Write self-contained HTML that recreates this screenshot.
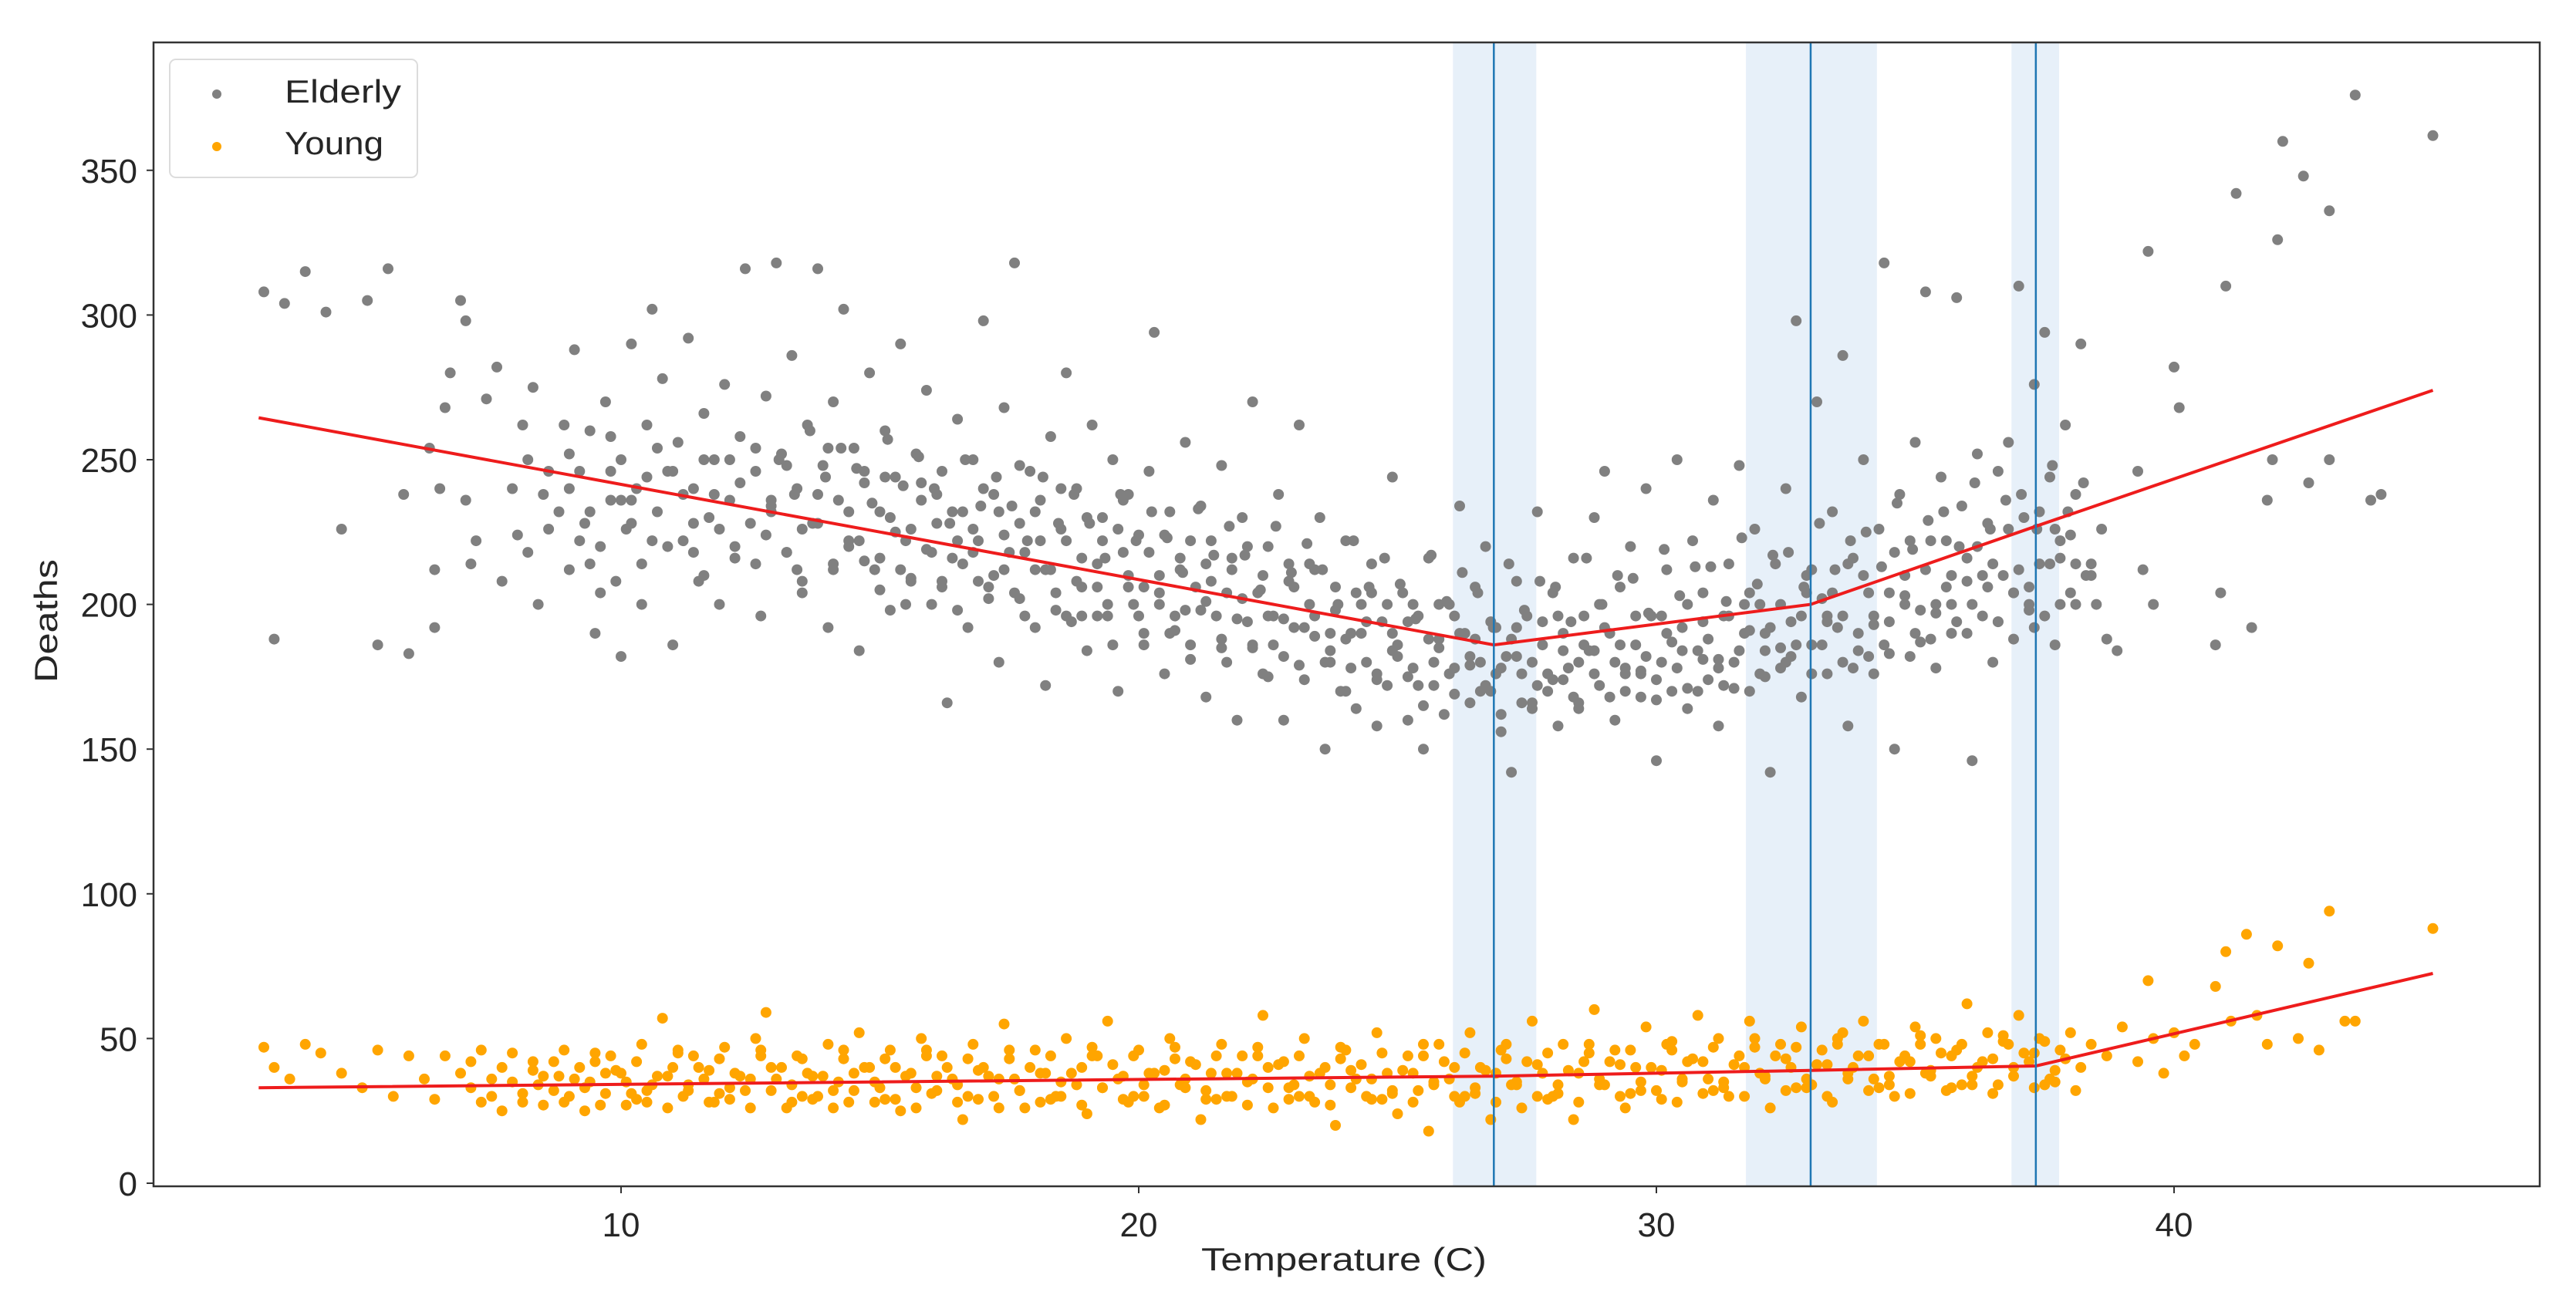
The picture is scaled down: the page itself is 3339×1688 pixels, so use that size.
<!DOCTYPE html>
<html>
<head>
<meta charset="utf-8">
<style>
  html,body{margin:0;padding:0;background:#fff;}
  svg{display:block;}
  text{font-family:"Liberation Sans","DejaVu Sans",sans-serif;fill:#262626;}
</style>
</head>
<body>
<svg id="chart" width="3339" height="1688" viewBox="0 0 3339 1688" xmlns="http://www.w3.org/2000/svg">
  <rect x="0" y="0" width="3339" height="1688" fill="#ffffff"/>
  <g id="bands"></g>
  <g id="elderly"></g>
  <g id="young"></g>
  <g id="fits"></g>
  <g id="vlines"></g>
  <rect x="199" y="55" width="3093" height="1483" fill="none" stroke="#333" stroke-width="2.5"/>
  <g id="xticks"></g>
  <g id="yticks"></g>
  <text x="1557" y="1647" font-size="42" textLength="370" lengthAdjust="spacingAndGlyphs">Temperature (C)</text>
  <text x="0" y="0" font-size="42" textLength="160" lengthAdjust="spacingAndGlyphs" text-anchor="middle" transform="translate(74,805) rotate(-90)">Deaths</text>
  <g>
    <rect x="220" y="77" width="321" height="153" rx="8" fill="#fff" fill-opacity="0.8" stroke="#dcdcdc" stroke-width="2"/>
    <circle cx="281" cy="122" r="6" fill="#808080"/>
    <text x="369" y="133" font-size="42" textLength="151" lengthAdjust="spacingAndGlyphs">Elderly</text>
    <circle cx="281" cy="190" r="6" fill="#ffa500"/>
    <text x="369" y="200" font-size="42" textLength="128" lengthAdjust="spacingAndGlyphs">Young</text>
  </g>
</svg>
<script>
const xTicks = [10, 20, 30, 40];
const yTicks = [0, 50, 100, 150, 200, 250, 300, 350];
const breakpoints = [26.86, 32.98, 37.33];
const bandLow = [26.07, 31.73, 36.86];
const bandHigh = [27.68, 34.26, 37.78];
const elderlyFitT = [3.0, 26.86, 32.98, 37.33, 45.0];
const elderlyFitD = [264.5, 186, 200, 227, 274];
const youngFitT = [3.0, 26.86, 32.98, 37.33, 45.0];
const youngFitD = [33, 37, 39, 40.5, 72.5];
const elderlyPoints = [
[3.1,308],[3.3,188],[3.5,304],[3.9,315],[4.3,301],[4.6,226],[5.1,305],[5.3,186],[5.5,316],[5.8,238],[5.9,183],[6.3,254],[6.4,212],[6.4,192],[6.5,240],[6.6,268],[6.7,280],[6.9,305],[7.0,298],[7.0,236],[7.1,214],[7.2,222],[7.4,271],[7.6,282],[7.7,208],[7.9,240],[8.0,224],[8.1,262],[8.2,218],[8.3,275],[8.4,200],[8.6,246],[8.8,232],[8.9,262],[9.0,212],[9.1,288],[9.2,246],[9.3,228],[9.4,260],[9.5,190],[9.6,220],[9.7,270],[9.8,236],[9.9,208],[10.0,250],[10.0,182],[10.1,226],[10.2,290],[10.3,240],[10.4,214],[10.5,262],[10.6,302],[10.7,232],[10.8,278],[10.9,246],[11.0,186],[11.1,256],[11.2,222],[11.3,292],[11.4,240],[11.5,208],[11.6,266],[11.7,230],[11.8,250],[11.9,200],[12.0,276],[12.1,236],[12.2,216],[12.3,258],[12.4,316],[12.5,228],[12.6,246],[12.7,196],[12.8,272],[12.9,234],[13.0,318],[13.1,252],[13.2,218],[13.3,286],[13.4,240],[13.5,204],[13.6,262],[13.7,228],[13.8,316],[13.9,248],[14.0,192],[14.1,270],[14.2,236],[14.3,302],[14.4,220],[14.5,254],[14.6,184],[14.7,242],[14.8,280],[14.9,212],[15.0,232],[15.1,260],[15.2,198],[15.3,244],[15.4,290],[15.5,222],[15.6,208],[15.7,252],[15.8,236],[15.9,274],[16.0,200],[16.1,228],[16.2,246],[16.3,166],[16.4,216],[16.5,264],[16.6,232],[16.7,192],[16.8,250],[16.9,222],[17.0,298],[17.1,206],[17.2,238],[17.3,180],[17.4,268],[17.5,218],[17.6,318],[17.7,228],[17.8,196],[17.9,246],[18.0,212],[18.1,236],[18.2,172],[18.3,258],[18.4,204],[18.5,226],[18.6,280],[18.7,194],[18.8,240],[18.9,216],[19.0,184],[19.1,262],[19.2,206],[19.3,230],[19.4,196],[19.5,250],[19.6,170],[19.7,218],[19.8,238],[19.9,200],[20.0,224],[20.1,186],[20.2,246],[20.3,294],[20.4,210],[20.5,176],[20.6,232],[20.7,196],[20.8,216],[20.9,256],[21.0,186],[21.1,206],[21.2,234],[21.3,168],[21.4,222],[21.5,196],[21.6,248],[21.7,180],[21.8,212],[21.9,160],[22.0,230],[22.1,194],[22.2,270],[22.3,204],[22.4,176],[22.5,220],[22.6,186],[22.7,238],[22.8,160],[22.9,208],[23.0,192],[23.1,262],[23.2,174],[23.3,214],[23.4,196],[23.5,230],[23.6,150],[23.7,184],[23.8,206],[23.9,170],[24.0,222],[24.1,190],[24.2,164],[24.3,200],[24.4,180],[24.5,214],[24.6,158],[24.7,194],[24.8,172],[24.9,244],[25.0,186],[25.1,204],[25.2,160],[25.3,178],[25.4,196],[25.5,150],[25.6,216],[25.7,172],[25.8,188],[25.9,162],[26.0,200],[26.1,178],[26.2,234],[26.3,190],[26.4,166],[26.5,206],[26.6,180],[26.7,220],[26.8,170],[26.9,192],[27.0,156],[27.1,182],[27.2,142],[27.3,208],[27.4,176],[27.5,196],[27.6,164],[27.7,232],[27.8,186],[27.9,170],[28.0,204],[28.1,158],[28.2,190],[28.3,178],[28.4,216],[28.5,166],[28.6,196],[28.7,184],[28.8,230],[28.9,172],[29.0,246],[29.1,190],[29.2,160],[29.3,206],[29.4,176],[29.5,220],[29.6,186],[29.7,168],[29.8,240],[29.9,196],[30.0,146],[30.1,180],[30.2,212],[30.3,170],[30.4,250],[30.5,192],[30.6,164],[30.7,222],[30.8,184],[30.9,204],[31.0,174],[31.1,236],[31.2,158],[31.3,196],[31.4,214],[31.5,180],[31.6,248],[31.7,190],[31.8,170],[31.9,226],[32.0,200],[32.1,184],[32.2,142],[32.3,214],[32.4,178],[32.5,240],[32.6,194],[32.7,298],[32.8,168],[32.9,210],[33.0,186],[33.1,270],[33.2,202],[33.3,176],[33.4,232],[33.5,192],[33.6,286],[33.7,158],[33.8,216],[33.9,184],[34.0,250],[34.1,204],[34.2,176],[34.3,226],[34.4,318],[34.5,194],[34.6,150],[34.7,238],[34.8,210],[34.9,182],[35.0,256],[35.1,198],[35.2,308],[35.3,222],[35.4,178],[35.5,244],[35.6,206],[35.7,190],[35.8,306],[35.9,234],[36.0,216],[36.1,146],[36.2,252],[36.3,196],[36.4,228],[36.5,180],[36.6,246],[36.7,210],[36.8,256],[36.9,188],[37.0,310],[37.1,230],[37.2,198],[37.3,276],[37.4,214],[37.5,294],[37.6,244],[37.7,186],[37.8,222],[37.9,262],[38.0,204],[38.1,238],[38.2,290],[38.4,214],[38.6,226],[38.7,188],[38.9,184],[39.3,246],[39.4,212],[39.5,322],[39.6,200],[40.0,282],[40.1,268],[40.8,186],[40.9,204],[41.0,310],[41.2,342],[41.5,192],[41.8,236],[41.9,250],[42.0,326],[42.1,360],[42.5,348],[42.6,242],[43.0,336],[43.0,250],[43.5,376],[43.8,236],[44.0,238],[45.0,362],
[8.5,238],[9.0,252],[9.4,232],[9.8,246],[10.2,228],[10.5,244],[10.9,220],[11.2,238],[11.6,250],[11.9,226],[12.3,242],[12.6,214],[12.9,236],[13.2,248],[13.5,226],[13.8,238],[14.1,214],[14.4,232],[14.7,246],[15.0,216],[15.2,230],[15.4,212],[15.6,226],[15.8,242],[16.0,218],[16.2,206],[16.4,232],[16.6,214],[16.8,226],[17.0,240],[17.2,210],[17.4,224],[17.6,204],[17.8,218],[18.0,232],[18.2,212],[18.4,198],[18.6,222],[18.8,208],[19.0,230],[19.2,214],[19.4,200],[19.6,226],[19.8,210],[20.0,196],[20.2,218],[20.4,204],[20.6,190],[20.8,212],[21.0,222],[21.2,198],[21.4,208],[21.6,188],[21.8,216],[22.0,202],[22.2,186],[22.4,210],[22.6,196],[22.8,182],[23.0,206],[23.2,192],[23.4,212],[23.6,180],[23.8,198],[24.0,188],[24.2,204],[24.4,194],[24.6,176],[24.8,200],[25.0,182],[25.2,194],[25.4,172],[25.6,188],[25.8,200],[26.0,176],[26.2,190],[26.4,182],[26.6,170],[26.8,194],[27.0,178],[27.2,188],[27.4,166],[27.6,180],[27.8,194],[28.0,174],[28.2,184],[28.4,168],[28.6,186],[28.8,176],[29.0,192],[29.2,180],[29.4,170],[29.6,196],[29.8,182],[30.0,174],[30.2,190],[30.4,178],[30.6,200],[30.8,170],[31.0,188],[31.2,178],[31.4,196],[31.6,184],[31.8,204],[32.0,176],[32.2,192],[32.4,200],[32.6,182],[32.8,196],[33.0,212],[33.2,186],[33.4,204],[33.6,196],[33.8,178],[34.0,210],[34.2,196],[34.4,186],[34.6,218],[34.8,200],[35.0,190],[35.2,212],[35.4,200],[35.6,222],[35.8,194],[36.0,208],[36.2,220],[36.4,206],[36.6,194],[36.8,226],[37.0,212],[37.2,200],[37.4,232],[37.6,214],[37.8,200],[38.0,224],[38.3,210],[38.5,200],
[9.2,222],[10.0,236],[10.7,254],[11.4,218],[12.1,250],[12.8,224],[13.4,212],[14.0,254],[14.6,222],[15.1,244],[15.5,200],[16.1,238],[16.5,222],[16.9,208],[17.3,232],[17.7,248],[18.1,222],[18.5,240],[18.9,196],[19.3,222],[19.7,236],[20.1,206],[20.5,224],[20.9,198],[21.3,214],[21.7,204],[22.1,220],[22.5,196],[22.9,214],[23.3,200],[23.7,190],[24.1,178],[24.5,204],[24.9,190],[25.3,200],[25.7,180],[26.1,196],[26.5,188],[26.9,176],[27.3,192],[27.7,172],[28.1,196],[28.5,180],[28.9,200],[29.3,186],[29.7,176],[30.1,196],[30.5,184],[30.9,194],[31.3,172],[31.7,200],[32.1,190],[32.5,180],[32.9,204],[33.3,194],[33.7,214],[34.1,182],[34.5,204],[34.9,222],[35.3,188],[35.7,210],[36.1,200],[36.5,214],[36.9,204],[37.3,192],[37.7,226],[38.1,214],
[8.2,250],[8.6,226],[9.0,240],[9.4,214],[9.8,258],[10.2,236],[10.6,222],[11.0,246],[11.4,228],[11.8,238],[12.2,220],[12.6,254],[12.9,232],[11.6,210],[10.4,200],[9.6,204],
[13.05,250],[13.2,218],[13.35,238],[13.5,208],[13.65,260],[13.8,228],[13.95,244],[14.1,212],[14.25,254],[14.4,222],
[14.55,247],[14.7,215],[14.85,235],[15.0,205],[15.15,257],[15.3,225],[15.45,241],[15.6,209],[15.75,251],[15.9,219],
[16.05,240],[16.2,208],[16.35,228],[16.5,198],[16.65,250],[16.8,218],[16.95,234],[17.1,202],[17.25,244],[17.4,212],
[17.55,234],[17.7,202],[17.85,222],[18.0,192],[18.15,244],[18.3,212],[18.45,228],[18.6,196],[18.75,238],[18.9,206],
[19.05,228],[19.2,196],[19.35,216],[19.5,186],[19.65,238],[19.8,206],[19.95,222],[20.1,190],[20.25,232],[20.4,200],
[20.55,223],[20.7,191],[20.85,211],[21.0,181],[21.15,233],[21.3,201],[21.45,217],[21.6,185],[21.75,227],[21.9,195],
[22.05,217],[22.2,185],[22.35,205],[22.5,175],[22.65,227],[22.8,195],[22.95,211],[23.1,179],[23.25,221],[23.4,189],
[23.55,212],[23.7,180],[23.85,200],[24.0,170],[24.15,222],[24.3,190],[24.45,206],[24.6,174],[24.75,216],[24.9,184],
[25.05,207],[25.2,175],[25.35,195],[25.5,165],[25.65,217],[25.8,185],[25.95,201],[26.1,169],[26.25,211],[26.4,179],
[26.55,204],[26.7,172],[26.85,192],[27.0,162],[27.15,214],[27.3,182],[27.45,198],[27.6,166],[27.75,208],[27.9,176],
[28.05,206],[28.2,174],[28.35,194],[28.5,164],[28.65,216],[28.8,184],[28.95,200],[29.1,168],[29.25,210],[29.4,178],
[29.55,209],[29.7,177],[29.85,197],[30.0,167],[30.15,219],[30.3,187],[30.45,203],[30.6,171],[30.75,213],[30.9,181],
[31.05,213],[31.2,181],[31.35,201],[31.5,171],[31.65,223],[31.8,191],[31.95,207],[32.1,175],[32.25,217],[32.4,185],
[32.55,218],[32.7,186],[32.85,206],[33.0,176],[33.15,228],[33.3,196],[33.45,212],[33.6,180],[33.75,222],[33.9,190],
[34.05,225],[34.2,193],[34.35,213],[34.5,183],[34.65,235],[34.8,203],[34.95,219],[35.1,187],[35.25,229],[35.4,197],
[35.55,232],[35.7,200],[35.85,220],[36.0,190],[36.15,242],[36.3,210],[36.45,226],[36.6,194],[36.75,236],[36.9,204],
[37.05,238],[37.2,206],[37.35,226],[37.5,196],[37.65,248],[37.8,216],[37.95,232],[38.1,200],[38.25,242],[38.4,210]
];
const youngPoints = [
[3.1,47],[3.3,40],[3.6,36],[3.9,48],[4.2,45],[4.6,38],[5.0,33],[5.3,46],[5.6,30],[5.9,44],[6.2,36],[6.4,29],[6.6,44],[6.9,38],[7.1,33],[7.3,46],[7.5,30],[7.7,40],[7.9,35],[8.1,28],[8.3,42],[8.5,37],[8.7,32],[8.9,46],[9.0,30],[9.2,40],[9.4,35],[9.6,27],[9.8,44],[10.0,38],[10.2,31],[10.4,48],[10.6,34],[10.8,57],[11.0,40],[11.2,30],[11.4,44],[11.6,36],[11.8,28],[12.0,47],[12.2,38],[12.4,32],[12.6,50],[12.8,59],[13.0,36],[13.2,26],[13.4,44],[13.6,38],[13.8,30],[14.0,48],[14.2,35],[14.4,28],[14.6,52],[14.8,40],[15.0,33],[15.2,46],[15.4,25],[15.6,38],[15.8,50],[16.0,31],[16.2,44],[16.4,36],[16.6,22],[16.8,48],[17.0,40],[17.2,30],[17.4,55],[17.6,36],[17.8,26],[18.0,46],[18.2,38],[18.4,30],[18.6,50],[18.8,34],[19.0,24],[19.2,44],[19.4,56],[19.6,36],[19.8,28],[20.0,46],[20.2,38],[20.4,26],[20.6,50],[20.8,34],[21.0,42],[21.2,22],[21.4,38],[21.6,48],[21.8,30],[22.0,44],[22.2,36],[22.4,58],[22.6,26],[22.8,42],[23.0,34],[23.2,50],[23.4,28],[23.6,40],[23.8,20],[24.0,46],[24.2,36],[24.4,30],[24.6,52],[24.8,38],[25.0,24],[25.2,44],[25.4,32],[25.6,18],[25.8,48],[26.0,36],[26.2,28],[26.4,52],[26.6,40],[26.8,22],[27.0,46],[27.2,34],[27.4,26],[27.6,56],[27.8,38],[28.0,30],[28.2,48],[28.4,22],[28.6,42],[28.8,60],[29.0,34],[29.2,46],[29.4,26],[29.6,40],[29.8,54],[30.0,32],[30.2,48],[30.4,28],[30.6,42],[30.8,58],[31.0,36],[31.2,50],[31.4,30],[31.6,44],[31.8,56],[32.0,38],[32.2,26],[32.4,48],[32.6,40],[32.8,54],[33.0,34],[33.2,46],[33.4,28],[33.6,52],[33.8,40],[34.0,56],[34.2,36],[34.4,48],[34.6,30],[34.8,44],[35.0,54],[35.2,38],[35.4,50],[35.6,32],[35.8,46],[36.0,62],[36.2,40],[36.4,52],[36.6,34],[36.8,48],[37.0,58],[37.2,42],[37.4,50],[37.6,36],[37.8,46],[38.0,52],[38.2,40],[38.4,48],[38.7,44],[39.0,54],[39.3,42],[39.5,70],[39.6,50],[39.8,38],[40.0,52],[40.2,44],[40.4,48],[40.8,68],[41.0,80],[41.1,56],[41.4,86],[41.6,58],[41.8,48],[42.0,82],[42.4,50],[42.6,76],[42.8,46],[43.0,94],[43.3,56],[43.5,56],[45.0,88],
[8.4,34],[8.8,37],[9.3,33],[9.7,38],[10.1,35],[10.5,32],[10.9,37],[11.3,34],[11.7,39],[12.1,33],[12.5,36],[12.9,40],[13.3,34],[13.7,37],[14.1,32],[14.5,38],[14.9,35],[15.3,40],[15.7,33],[16.1,37],[16.5,34],[16.9,39],[17.3,36],[17.7,32],[18.1,38],[18.5,35],[18.9,40],[19.3,33],[19.7,37],[20.1,34],[20.5,39],[20.9,36],[21.3,32],[21.7,38],[22.1,35],[22.5,40],[22.9,33],[23.3,37],[23.7,34],[24.1,39],[24.5,36],[24.9,32],[25.3,38],[25.7,35],[26.1,40],[26.5,33],[26.9,38],[27.3,35],[27.7,41],[28.1,34],[28.5,38],[28.9,36],[29.3,41],[29.7,35],[30.1,39],[30.5,36],[30.9,42],[31.3,35],[31.7,40],[32.1,37],[32.5,43],[32.9,36],[33.3,41],[33.7,38],[34.1,44],[34.5,37],[34.9,42],[35.3,39],[35.7,44],[36.1,37],[36.5,43],[36.9,40],[37.3,45],[37.7,39],
[9.5,42],[10.3,29],[11.1,45],[11.9,31],[12.7,44],[13.5,30],[14.3,43],[15.1,29],[15.9,44],[16.7,30],[17.5,43],[18.3,29],[19.1,44],[19.9,30],[20.7,43],[21.5,29],[22.3,44],[23.1,30],[23.9,43],[24.7,29],[25.5,44],[26.3,30],[27.1,43],[27.9,29],[28.7,45],[29.5,31],[30.3,46],[31.1,32],[31.9,47],[32.7,33],[33.5,48],[34.3,33],[35.1,48],[35.9,34],[36.7,49],[37.5,34],
[7.1,42],[7.3,28],[7.5,36],[7.7,25],[7.9,45],[8.1,31],[8.3,39],[8.5,27],[8.7,42],[8.9,28],[9.1,36],[9.3,25],[9.5,45],[9.7,31],[9.9,39],[10.1,27],
[10.3,42],[10.5,28],[10.7,37],[10.9,26],[11.1,46],[11.3,32],[11.5,40],[11.7,28],[11.9,43],[12.1,29],[12.3,37],[12.5,26],[12.7,46],[12.9,32],[13.1,40],[13.3,28],
[13.5,43],[13.7,29],[13.9,37],[14.1,26],[14.3,46],[14.5,32],[14.7,40],[14.9,28],[15.1,43],[15.3,29],[15.5,37],[15.7,26],[15.9,46],[16.1,32],[16.3,40],[16.5,28],
[16.7,43],[16.9,29],[17.1,37],[17.3,26],[17.5,46],[17.7,32],[17.9,40],[18.1,28],[18.3,44],[18.5,30],[18.7,38],[18.9,27],[19.1,47],[19.3,33],[19.5,41],[19.7,29],
[19.9,44],[20.1,30],[20.3,38],[20.5,27],[20.7,47],[20.9,33],[21.1,41],[21.3,29],[21.5,44],[21.7,30],[21.9,38],[22.1,27],[22.3,47],[22.5,33],[22.7,41],[22.9,29],
[23.1,44],[23.3,30],[23.5,38],[23.7,27],[23.9,47],[24.1,33],[24.3,41],[24.5,29],[24.7,45],[24.9,31],[25.1,39],[25.3,28],[25.5,48],[25.7,34],[25.9,42],[26.1,30],
[26.3,45],[26.5,31],[26.7,39],[26.9,28],[27.1,48],[27.3,34],[27.5,42],[27.7,30],[27.9,45],[28.1,31],[28.3,39],[28.5,28],[28.7,48],[28.9,34],[29.1,42],[29.3,30],
[29.5,46],[29.7,32],[29.9,40],[30.1,29],[30.3,49],[30.5,35],[30.7,43],[30.9,31],[31.1,47],[31.3,33],[31.5,41],[31.7,30],[31.9,50],[32.1,36],[32.3,44],[32.5,32],
[32.7,47],[32.9,33],[33.1,41],[33.3,30],[33.5,50],[33.7,36],[33.9,44],[34.1,32],[34.3,48],[34.5,34],[34.7,42],[34.9,31],[35.1,51],[35.3,37],[35.5,45],[35.7,33],
[35.9,48],[36.1,34],[36.3,42],[36.5,31],[36.7,51],[36.9,37],[37.1,45],[37.3,33],[37.5,49],[37.7,35],[37.9,43],[38.1,32]
];

const NS = "http://www.w3.org/2000/svg";
const PLOT = {left: 199, right: 3292, top: 55, bottom: 1538};
function sx(t) { return 134 + t * 67.1; }
function sy(d) { return 1534 - d * 3.752; }
function mk(tag, attrs, parent) {
  const el = document.createElementNS(NS, tag);
  for (const k in attrs) el.setAttribute(k, attrs[k]);
  parent.appendChild(el);
  return el;
}

const bands = document.getElementById('bands');
bandLow.forEach((lo, i) => {
  const r = mk('rect', {x: sx(lo), y: PLOT.top, width: sx(bandHigh[i]) - sx(lo), height: PLOT.bottom - PLOT.top, fill: '#e7f0f9'}, bands);
  
  
});

const eg = document.getElementById('elderly');
elderlyPoints.forEach(p => {
  const c = mk('circle', {cx: sx(p[0]).toFixed(1), cy: sy(p[1]).toFixed(1), r: 7, fill: '#808080'}, eg);
  
  
});
const yg = document.getElementById('young');
youngPoints.forEach(p => {
  const c = mk('circle', {cx: sx(p[0]).toFixed(1), cy: sy(p[1]).toFixed(1), r: 7, fill: '#ffa500'}, yg);
  
  
});

const fits = document.getElementById('fits');
const ef = mk('polyline', {points: elderlyFitT.map((t, i) => sx(t).toFixed(1) + ',' + sy(elderlyFitD[i]).toFixed(1)).join(' '), fill: 'none', stroke: '#ee1c1c', 'stroke-width': 4}, fits);


const yf = mk('polyline', {points: youngFitT.map((t, i) => sx(t).toFixed(1) + ',' + sy(youngFitD[i]).toFixed(1)).join(' '), fill: 'none', stroke: '#ee1c1c', 'stroke-width': 4}, fits);



const vl = document.getElementById('vlines');
breakpoints.forEach(b => {
  const l = mk('line', {x1: sx(b), x2: sx(b), y1: PLOT.top, y2: PLOT.bottom, stroke: '#1f77b4', 'stroke-width': 2.5}, vl);
  
  
});

const xt = document.getElementById('xticks');
xTicks.forEach(v => {
  const l = mk('line', {x1: sx(v), x2: sx(v), y1: PLOT.bottom, y2: PLOT.bottom + 9, stroke: '#333', 'stroke-width': 2}, xt);
  
  
  const t = mk('text', {x: sx(v), y: 1603, 'font-size': 44, 'text-anchor': 'middle'}, xt);
  t.textContent = v;
  
  
});
const ytk = document.getElementById('yticks');
yTicks.forEach(v => {
  const l = mk('line', {x1: PLOT.left - 9, x2: PLOT.left, y1: sy(v), y2: sy(v), stroke: '#333', 'stroke-width': 2}, ytk);
  
  
  const t = mk('text', {x: 178, y: sy(v) + 16, 'font-size': 44, 'text-anchor': 'end'}, ytk);
  t.textContent = v;
  
  
});
</script>
</body>
</html>
